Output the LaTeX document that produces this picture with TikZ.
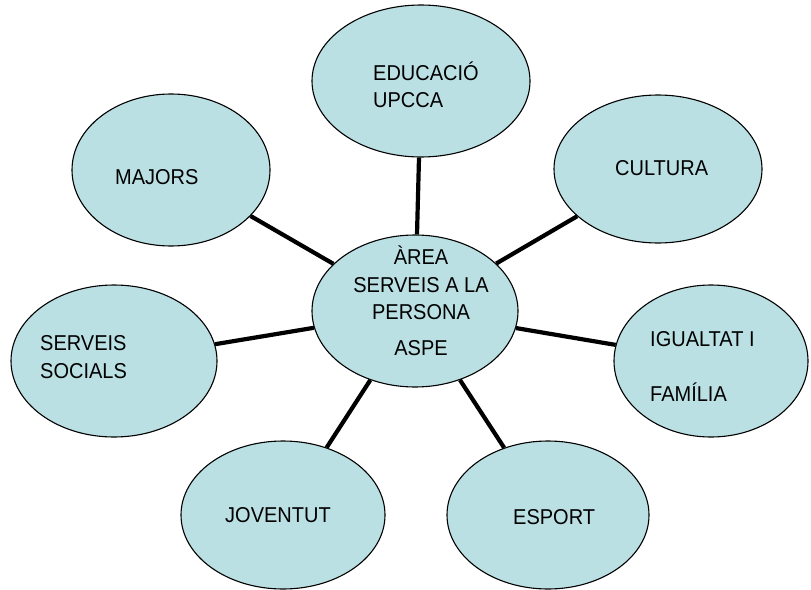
\documentclass[tikz,border=0pt]{standalone}
\usepackage{fontspec}
\setmainfont{Liberation Sans}
\newfontfamily\lblfont[FakeStretch=0.93]{Liberation Sans}
\usepackage{tikz}
\usetikzlibrary{shapes.geometric}
\definecolor{bubblefill}{RGB}{186,224,228}

\begin{document}
\begin{tikzpicture}[x=1pt, y=-1pt,
  bubble/.style={draw, line width=1.1pt, fill=bubblefill, ellipse, inner sep=0pt},
  spoke/.style={line width=4.2pt},
  lbl/.style={font=\lblfont\fontsize{21.5}{27.5}\selectfont, inner sep=0pt, align=left, anchor=west}]
\useasboundingbox (0,0) rectangle (811,589);
% the eight bubbles
\node[bubble, minimum width=206pt, minimum height=152pt] (area) at (415,311) {};
\node[bubble, minimum width=218pt, minimum height=152pt] (edu) at (421,81) {};
\node[bubble, minimum width=208pt, minimum height=148pt] (cult) at (658,169) {};
\node[bubble, minimum width=198pt, minimum height=152pt] (maj) at (171,170) {};
\node[bubble, minimum width=206pt, minimum height=152pt] (ss) at (114,361) {};
\node[bubble, minimum width=194pt, minimum height=152pt] (igu) at (711,361) {};
\node[bubble, minimum width=204pt, minimum height=148pt] (jov) at (283,515) {};
\node[bubble, minimum width=202pt, minimum height=148pt] (esp) at (548,515) {};
% spokes from the centre
\draw[spoke] (area) -- (edu);
\draw[spoke] (area) -- (cult);
\draw[spoke] (area) -- (maj);
\draw[spoke] (area) -- (ss);
\draw[spoke] (area) -- (igu);
\draw[spoke] (area) -- (jov);
\draw[spoke] (area) -- (esp);
% texts
\node[lbl, align=center, anchor=center] (areatxt) at (421,301) {ÀREA\\SERVEIS A LA\\PERSONA\\[8.5pt]ASPE};
\node[lbl] (edutxt) at (373,85) {EDUCACIÓ\\UPCCA};
\node[lbl] (culttxt) at (615,168) {CULTURA};
\node[lbl] (majtxt) at (115,177) {MAJORS};
\node[lbl] (sstxt) at (40,357) {SERVEIS\\SOCIALS};
\node[lbl] (igutxt) at (650,366) {IGUALTAT I\\[27.5pt]FAMÍLIA};
\node[lbl] (jovtxt) at (225,515) {JOVENTUT};
\node[lbl] (esptxt) at (513,517) {ESPORT};
\end{tikzpicture}
\end{document}
